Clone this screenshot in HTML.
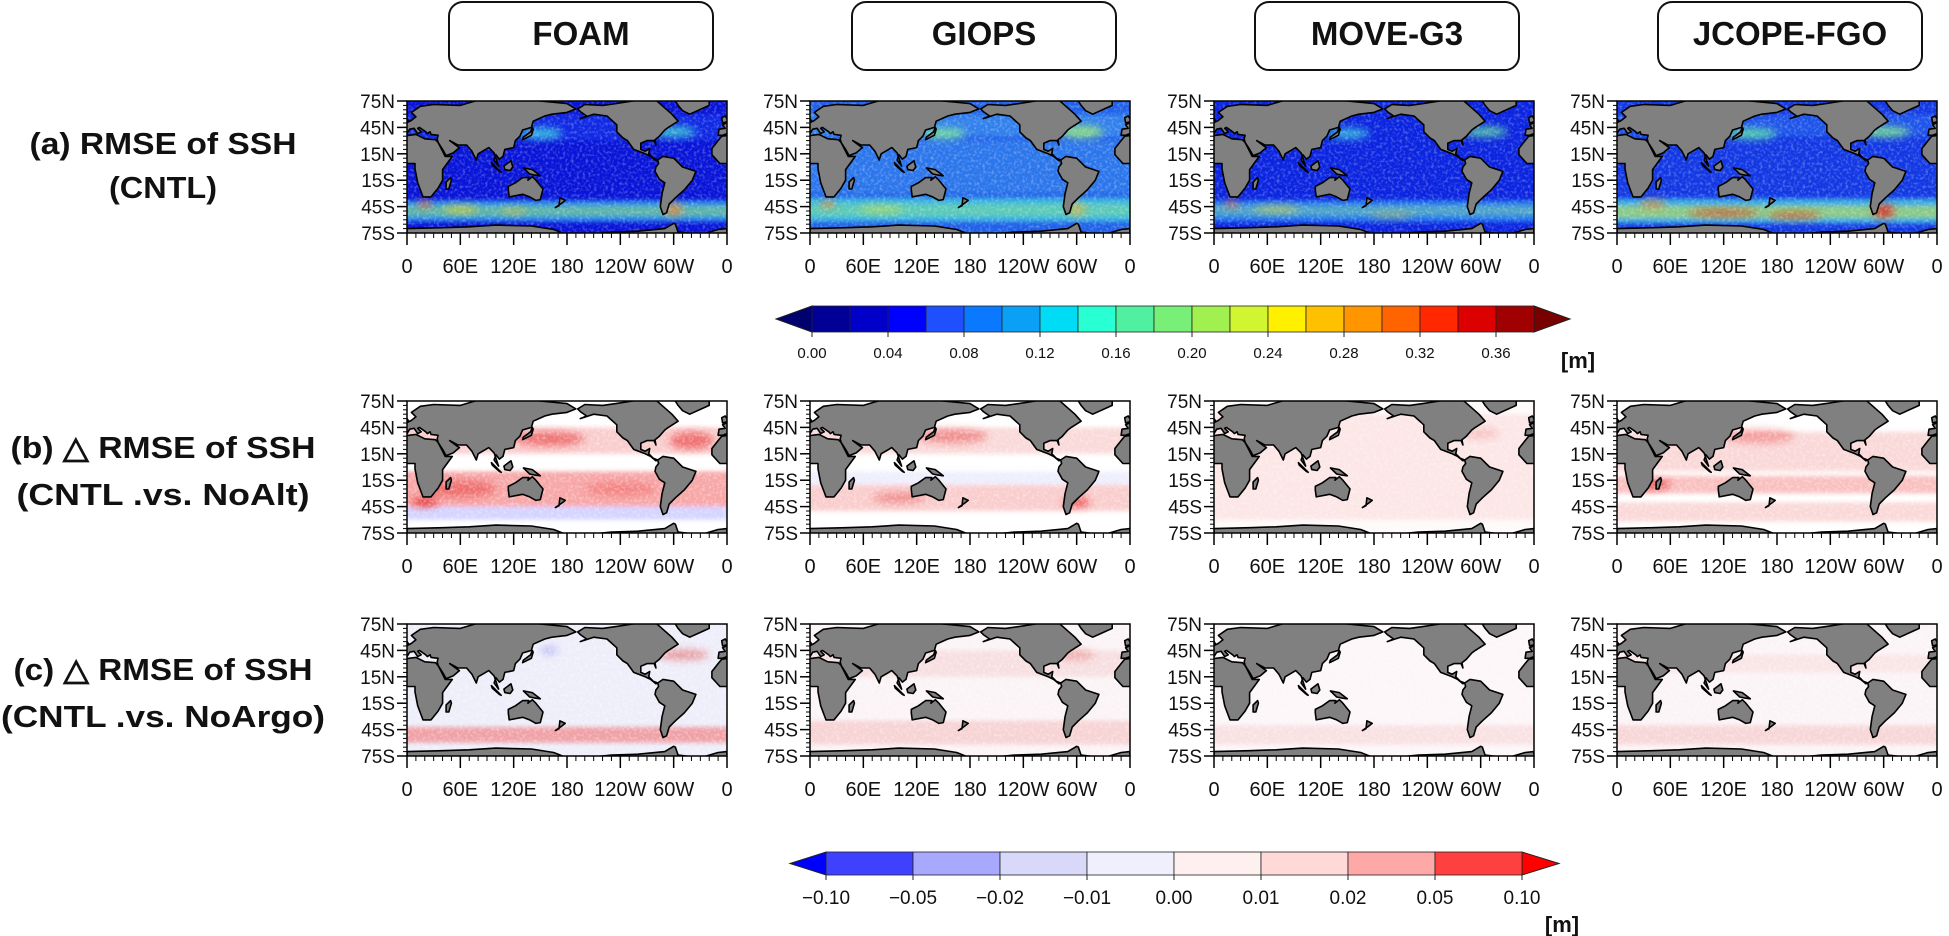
<!DOCTYPE html>
<html><head><meta charset="utf-8"><style>
html,body{margin:0;padding:0;background:#fff;}
svg{display:block;font-family:"Liberation Sans",sans-serif;}
</style></head><body>
<svg id="fig" width="1949" height="936" viewBox="0 0 1949 936">
<defs>
<filter id="blur4" x="-50%" y="-50%" width="200%" height="200%"><feGaussianBlur stdDeviation="4"/></filter>
<filter id="blur2" x="-20%" y="-20%" width="140%" height="140%"><feGaussianBlur stdDeviation="2"/></filter>
<filter id="grain" x="0" y="0" width="100%" height="100%">
<feTurbulence type="fractalNoise" baseFrequency="0.35" numOctaves="2" seed="3"/>
<feColorMatrix type="matrix" values="0 0 0 0 1  0 0 0 0 1  0 0 0 0 1  0 0 0 2.6 -1.2"/>
</filter>
</defs>
</svg>
<script>
const models = ["FOAM","GIOPS","MOVE-G3","JCOPE-FGO"];
const latTicks = [75,45,15,-15,-45,-75];
const latTickLabels = ["75N","45N","15N","15S","45S","75S"];
const lonTicks = [0,60,120,180,240,300,360];
const lonTickLabels = ["0","60E","120E","180","120W","60W","0"];
const cbar1Colors = ["#000096","#0000c8","#0000ff","#1e50ff","#0a78ff","#0aa0f5","#00dcf5","#28ffd2","#50f0a0","#78f078","#a0f050","#d2f532","#fff000","#ffc000","#ff9600","#ff6400","#ff2800","#dc0000","#a00000"];
const cbar1Ticks = ["0.00","0.04","0.08","0.12","0.16","0.20","0.24","0.28","0.32","0.36"];
const cbar2Colors = ["#4040ff","#a8a8ff","#d8d8f8","#f0f0fc","#fff0f0","#ffd8d8","#ffa8a8","#ff4040"];
const cbar2Ticks = ["\u22120.10","\u22120.05","\u22120.02","\u22120.01","0.00","0.01","0.02","0.05","0.10"];

const baseA = ["#0814d8","#2060e8","#0a24e0","#1238e4"];
const bandsA_FOAM = [[60,30,"#1a3cf0",0.5],[-38,-62,"#30b0f0",0.75],[-44,-56,"#a0e860",0.45]];
const bandsA_GIOPS = [[30,-30,"#3a8cf0",0.5],[-35,-62,"#40c8e0",0.8],[-42,-56,"#80e090",0.5],[60,35,"#40a0f0",0.5]];
const bandsA_MOVE = [[-38,-62,"#2a90f0",0.8],[-44,-55,"#80d8a0",0.45]];
const bandsA_JCOPE = [[-36,-64,"#40c0e0",0.85],[-44,-58,"#c0e050",0.6],[60,35,"#2a70f0",0.5]];
const hotA_FOAM = [[150,38,25,6,"#40e0e0",0.8],[300,40,25,6,"#40e0d0",0.8],[20,-42,8,4,"#ff6020",0.8],[60,-48,20,4,"#f0d020",0.7],[120,-50,15,3,"#f0c020",0.6],[300,-48,10,8,"#f08030",0.7]];
const hotA_GIOPS = [[150,38,25,6,"#80f090",0.8],[305,40,25,7,"#a0f070",0.8],[20,-42,8,4,"#ff8020",0.8],[80,-48,25,4,"#d0e040",0.6],[300,-48,10,8,"#f0b030",0.6]];
const hotA_MOVE = [[150,38,25,6,"#40d0e0",0.8],[305,40,25,6,"#60e0a0",0.8],[20,-42,8,4,"#ff6020",0.7],[70,-48,25,4,"#e0d030",0.6],[200,-55,25,3,"#e0c030",0.5]];
const hotA_JCOPE = [[150,38,30,6,"#60f0a0",0.8],[300,40,30,6,"#80f080",0.8],[120,-52,40,4,"#e03010",0.7],[200,-55,30,4,"#e04010",0.7],[300,-50,12,8,"#e02020",0.8],[40,-42,15,4,"#f08020",0.8]];
const baseB = ["#ffffff","#ffffff","#fffafa","#ffffff"];
const bandsB_FOAM = [[45,15,"#f07070",0.35],[-5,-45,"#f05050",0.5],[-45,-60,"#8080ff",0.35]];
const bandsB_GIOPS = [[45,15,"#f08080",0.3],[-20,-50,"#f07070",0.35],[-5,-20,"#c8c8f8",0.3]];
const bandsB_MOVE = [[60,-60,"#f8c8c8",0.4]];
const bandsB_JCOPE = [[40,-5,"#f09090",0.35],[-10,-30,"#f06060",0.4],[-40,-62,"#f09090",0.35]];
const hotB_FOAM = [[160,32,40,8,"#e83030",0.6],[320,30,25,10,"#e83030",0.6],[20,-40,15,5,"#e02020",0.8],[60,-25,40,10,"#e83838",0.5],[240,-25,40,8,"#f05050",0.4]];
const hotB_GIOPS = [[300,-40,15,6,"#e83030",0.7],[100,-35,30,6,"#e85050",0.5],[160,35,40,8,"#e84040",0.5]];
const hotB_MOVE = [[300,38,20,6,"#f0a0a0",0.5]];
const hotB_JCOPE = [[40,-20,20,5,"#e02020",0.7],[160,35,40,8,"#f06060",0.5]];
const baseC = ["#eeeefa","#fbf4f6","#fcf6f8","#fbf4f6"];
const bandsC_FOAM = [[-42,-60,"#f06060",0.55]];
const bandsC_GIOPS = [[-35,-62,"#f0a0a0",0.4],[45,15,"#f0b0b0",0.3]];
const bandsC_MOVE = [[-40,-62,"#f4c0c0",0.4]];
const bandsC_JCOPE = [[-40,-62,"#f0a0a0",0.35],[40,20,"#f4c0c0",0.3]];
const hotC_FOAM = [[310,40,30,6,"#e04040",0.5],[160,45,10,5,"#9090f0",0.5]];
const hotC_GIOPS = [[300,40,20,6,"#e06060",0.4]];
const hotC_MOVE = [];
const hotC_JCOPE = [];

const continents = [
 [[-17,21],[-10,30],[-6,35],[10,37],[20,32],[32,31],[35,28],[43,12],[51,12],[40,-3],[40,-15],[35,-24],[27,-34],[18,-34],[12,-18],[9,-2],[9,4],[-8,4],[-17,14]],
 [[-10,36],[-9,43],[-2,44],[-5,48],[5,53],[10,57],[5,62],[15,69],[30,71],[60,70],[80,76],[110,78],[140,76],[180,72],[190,66],[180,62],[163,60],[155,58],[142,52],[140,45],[130,42],[127,35],[122,30],[120,22],[110,20],[108,12],[104,9],[100,14],[98,8],[103,1],[98,16],[92,22],[80,15],[78,8],[73,18],[67,25],[57,25],[52,28],[48,30],[56,24],[59,22],[52,16],[44,13],[40,20],[35,28],[34,32],[35,36],[27,37],[26,40],[23,38],[21,40],[14,45],[12,44],[16,40],[12,38],[8,44],[3,43],[0,38],[-5,36]],
 [[95,5],[106,-6],[104,-5],[96,2]],
 [[109,1],[117,7],[119,0],[116,-4],[110,-3]],
 [[131,-1],[141,-3],[150,-10],[143,-9],[138,-8]],
 [[44,-25],[47,-25],[50,-15],[49,-12],[44,-17]],
 [[-5,50],[2,52],[-2,58],[-6,56]],
 [[130,31],[140,36],[142,43],[141,45],[139,40],[131,34]],
 [[114,-22],[122,-18],[130,-12],[137,-12],[136,-15],[141,-11],[145,-15],[153,-25],[150,-37],[145,-38],[138,-34],[130,-31],[115,-34],[114,-26]],
 [[172,-35],[178,-38],[174,-41],[167,-46],[171,-44]],
 [[-168,66],[-160,71],[-140,70],[-125,72],[-100,76],[-80,76],[-62,60],[-55,52],[-66,45],[-70,42],[-76,35],[-81,31],[-80,25],[-82,30],[-90,30],[-97,27],[-97,20],[-92,18],[-87,21],[-88,15],[-83,10],[-78,8],[-80,7],[-86,12],[-92,15],[-105,20],[-112,30],[-117,33],[-124,40],[-124,48],[-135,58],[-150,60],[-165,55],[-158,58],[-165,63]],
 [[-60,78],[-20,78],[-20,70],[-42,60],[-50,64],[-55,70]],
 [[-78,8],[-72,12],[-60,10],[-50,0],[-35,-5],[-39,-15],[-48,-26],[-58,-35],[-65,-42],[-68,-52],[-72,-54],[-75,-45],[-73,-30],[-70,-18],[-76,-14],[-81,-5],[-80,0],[-77,4]],
 [[0,-70],[40,-69],[70,-68],[100,-66],[140,-67],[165,-71],[180,-77],[200,-77],[230,-74],[260,-73],[290,-70],[300,-64],[302,-65],[305,-74],[330,-77],[350,-71],[360,-70],[360,-80],[0,-80]]
];

const colX = [407,810,1214,1617];
const rowY = [101,401,624];
const MW = 320, MH = 132;
const NS = "http://www.w3.org/2000/svg";
const svg = document.getElementById("fig");
function mk(tag, attrs, parent){const e=document.createElementNS(NS,tag);for(const k in attrs)e.setAttribute(k,attrs[k]);(parent||svg).appendChild(e);return e;}
function xs(x0,lon){return x0+lon/360*MW;}
function ys(y0,lat){return y0+(75-lat)/150*MH;}

const fields = [
 [[baseA[0],bandsA_FOAM,hotA_FOAM],[baseA[1],bandsA_GIOPS,hotA_GIOPS],[baseA[2],bandsA_MOVE,hotA_MOVE],[baseA[3],bandsA_JCOPE,hotA_JCOPE]],
 [[baseB[0],bandsB_FOAM,hotB_FOAM],[baseB[1],bandsB_GIOPS,hotB_GIOPS],[baseB[2],bandsB_MOVE,hotB_MOVE],[baseB[3],bandsB_JCOPE,hotB_JCOPE]],
 [[baseC[0],bandsC_FOAM,hotC_FOAM],[baseC[1],bandsC_GIOPS,hotC_GIOPS],[baseC[2],bandsC_MOVE,hotC_MOVE],[baseC[3],bandsC_JCOPE,hotC_JCOPE]]
];
const rowNames = ["rmse","delta-noalt","delta-noargo"];

models.forEach((m,i)=>{
  const g = mk("g",{});
  
  
  const bx = 449 + i*403;
  mk("rect",{x:bx,y:2,width:264,height:68,rx:14,fill:"#fff",stroke:"#111","stroke-width":2},g);
  const t = mk("text",{x:bx+132,y:45,"text-anchor":"middle","font-size":33,"font-weight":"bold",fill:"#111"},g);
  t.textContent = m;
});

const rowLabelLines = [["(a) RMSE of SSH","(CNTL)"],["(b) \u25B3 RMSE of SSH","(CNTL  .vs. NoAlt)"],["(c) \u25B3 RMSE of SSH","(CNTL  .vs. NoArgo)"]];
const rowLabelBase = [[154,198],[458,505],[680,727]];
const rowLabelWidths = [[267,108],[305,293],[299,324]];
rowLabelLines.forEach((ls,r)=>{
  const g = mk("g",{});
  
  
  ls.forEach((s,k)=>{
    const t = mk("text",{x:163,y:rowLabelBase[r][k],"text-anchor":"middle","font-size":31,"font-weight":"bold",fill:"#111",textLength:rowLabelWidths[r][k],lengthAdjust:"spacingAndGlyphs"},g);
    t.textContent = s;
  });
});

rowY.forEach((y0,r)=>{
  colX.forEach((x0,c)=>{
    const g = mk("g",{});
    
    
    const cid = "clip"+r+"_"+c;
    const cp = mk("clipPath",{id:cid},g);
    mk("rect",{x:x0,y:y0,width:MW,height:MH},cp);
    const inner = mk("g",{"clip-path":"url(#"+cid+")"},g);
    const f = fields[r][c];
    mk("rect",{x:x0,y:y0,width:MW,height:MH,fill:f[0]},inner);
    const fg = mk("g",{filter:"url(#blur2)"},inner);
    f[1].forEach(b=>{
      const ya=ys(y0,b[0]), yb=ys(y0,b[1]);
      const e = mk("rect",{x:x0-10,y:ya,width:MW+20,height:yb-ya,fill:b[2],opacity:b[3]},fg);
      
    });
    const hg = mk("g",{filter:"url(#blur4)"},inner);
    f[2].forEach(h=>{
      const e = mk("ellipse",{cx:xs(x0,h[0]),cy:ys(y0,h[1]),rx:h[2]/360*MW,ry:h[3]/150*MH,fill:h[4],opacity:h[5]},hg);
      
    });
    mk("rect",{x:x0,y:y0,width:MW,height:MH,fill:"#fff",filter:"url(#grain)",opacity:r===0?0.3:0.4},inner);
    continents.forEach(poly=>{
      [-360,0,360].forEach(off=>{
        const pts = poly.map(p=>xs(x0,p[0]+off).toFixed(1)+","+ys(y0,p[1]).toFixed(1)).join(" ");
        const e = mk("polygon",{points:pts,fill:"#808080",stroke:"#000","stroke-width":1.6,"stroke-linejoin":"round"},inner);
        
      });
    });
    mk("rect",{x:x0,y:y0,width:MW,height:MH,fill:"none",stroke:"#000","stroke-width":1.5},g);
    for(let lat=-75;lat<=75;lat+=5){
      const yy=ys(y0,lat);
      mk("line",{x1:x0-4,x2:x0,y1:yy,y2:yy,stroke:"#000","stroke-width":1},g);
    }
    latTicks.forEach((lat,k)=>{
      const yy=ys(y0,lat);
      mk("line",{x1:x0-10,x2:x0,y1:yy,y2:yy,stroke:"#000","stroke-width":1.5},g);
      const t=mk("text",{x:x0-12,y:yy+7,"text-anchor":"end","font-size":19,fill:"#111"},g);
      
      t.textContent=latTickLabels[k];
    });
    for(let lon=0;lon<=360;lon+=10){
      const xx=xs(x0,lon);
      mk("line",{x1:xx,x2:xx,y1:y0+MH,y2:y0+MH+5,stroke:"#000","stroke-width":1},g);
    }
    lonTicks.forEach((lon,k)=>{
      const xx=xs(x0,lon);
      mk("line",{x1:xx,x2:xx,y1:y0+MH,y2:y0+MH+12,stroke:"#000","stroke-width":1.5},g);
      const t=mk("text",{x:xx,y:y0+MH+40,"text-anchor":"middle","font-size":20,fill:"#111"},g);
      
      t.textContent=lonTickLabels[k];
    });
  });
});

function colorbar(name, colors, ticks, x0, x1, tipL, tipR, yT, yB, arrowL, arrowR, labelY, fs, mX, mY){
  const g = mk("g",{});
  
  
  const w=(x1-x0)/colors.length, ym=(yT+yB)/2;
  mk("polygon",{points:`${tipL},${ym} ${x0},${yT} ${x0},${yB}`,fill:arrowL,stroke:"#222","stroke-width":1},g);
  mk("polygon",{points:`${tipR},${ym} ${x1},${yT} ${x1},${yB}`,fill:arrowR,stroke:"#222","stroke-width":1},g);
  colors.forEach((col,i)=>{
    const e=mk("rect",{x:x0+i*w,y:yT,width:w,height:yB-yT,fill:col,stroke:"#222","stroke-width":0.8},g);
    
  });
  ticks.forEach((tk,i)=>{
    const xx = colors.length===19 ? x0+i*2*w : x0+i*w;
    mk("line",{x1:xx,x2:xx,y1:yB,y2:yB+5,stroke:"#222","stroke-width":1},g);
    const t=mk("text",{x:xx,y:labelY,"text-anchor":"middle","font-size":fs,fill:"#111"},g);
    
    t.textContent=tk;
  });
  const u=mk("text",{x:mX,y:mY,"text-anchor":"middle","font-size":22,"font-weight":"bold",fill:"#111"},g);
  
  u.textContent="[m]";
}
colorbar("rmse-colorbar",cbar1Colors,cbar1Ticks,812,1534,776,1570,306,332,"#00006e","#780000",358,15,1578,368);
colorbar("delta-colorbar",cbar2Colors,cbar2Ticks,826,1522,790,1559,852,875,"#0000ff","#ff0000",904,19,1562,932);
</script>
</body></html>
